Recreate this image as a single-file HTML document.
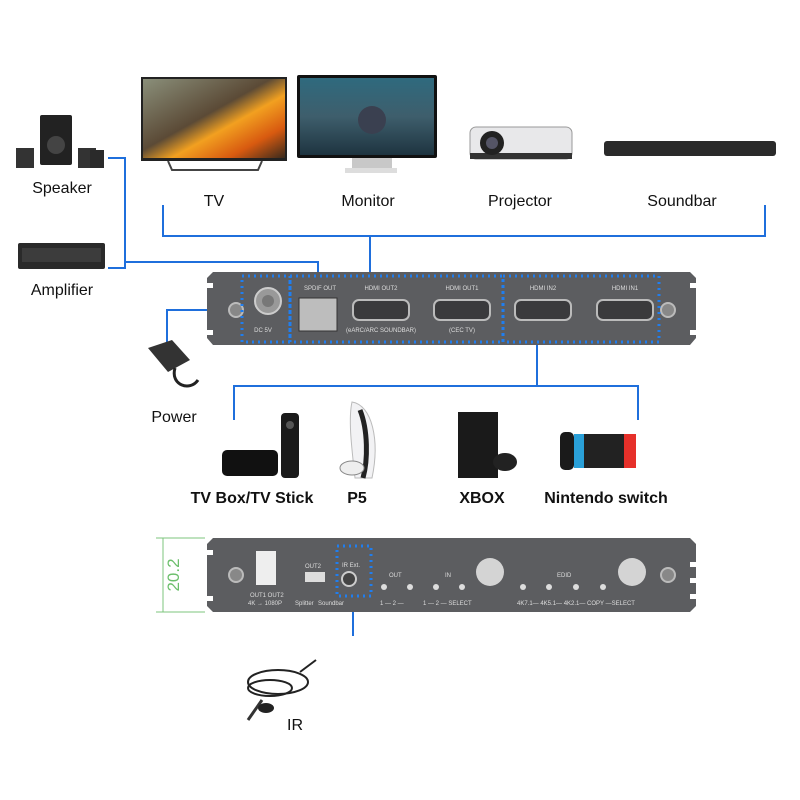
<!DOCTYPE html>
<html><head><meta charset="utf-8"><style>
body{margin:0;background:#fff;width:800px;height:800px;overflow:hidden}
svg{display:block}
text{font-family:"Liberation Sans",sans-serif}
</style></head><body>
<svg width="800" height="800" viewBox="0 0 800 800">
<defs>
<linearGradient id="tvg" x1="0" y1="0" x2="1" y2="1"><stop offset="0" stop-color="#8a8f7a"/><stop offset="0.45" stop-color="#5b4a36"/><stop offset="0.6" stop-color="#f2a020"/><stop offset="0.8" stop-color="#d85a10"/><stop offset="1" stop-color="#3a2a1c"/></linearGradient>
<linearGradient id="mog" x1="0" y1="0" x2="0" y2="1"><stop offset="0" stop-color="#2f6a7e"/><stop offset="0.5" stop-color="#3e5e6c"/><stop offset="1" stop-color="#1e3440"/></linearGradient>
</defs>
<g stroke="#1f6fdc" stroke-width="2" fill="none">
<polyline points="108,158 125,158 125,268 108,268"/>
<polyline points="125,262 318,262 318,274"/>
<polyline points="163,205 163,236 765,236 765,205"/>
<line x1="370" y1="236" x2="370" y2="274"/>
<polyline points="243,310 167,310 167,345"/>
<polyline points="537,342 537,386"/>
<polyline points="234,420 234,386 638,386 638,420"/>
<line x1="353" y1="610" x2="353" y2="636"/>
</g>
<!-- TV -->
<rect x="141" y="77" width="146" height="84" fill="#222"/>
<rect x="143" y="79" width="142" height="79" fill="url(#tvg)"/>
<polyline points="168,161 172,170 258,170 262,161" stroke="#444" stroke-width="2" fill="none"/>
<!-- Monitor -->
<rect x="297" y="75" width="140" height="83" rx="2" fill="#111"/>
<rect x="300" y="78" width="134" height="77" fill="url(#mog)"/>
<circle cx="372" cy="120" r="14" fill="#3a4050"/>
<rect x="352" y="158" width="40" height="10" fill="#c8c8c8"/>
<rect x="345" y="168" width="52" height="5" fill="#ddd"/>
<!-- Projector -->
<rect x="470" y="127" width="102" height="32" rx="6" fill="#e8e8ea" stroke="#999"/>
<rect x="470" y="153" width="102" height="6" fill="#333"/>
<circle cx="492" cy="143" r="12" fill="#222"/><circle cx="492" cy="143" r="6" fill="#556"/>
<!-- Soundbar -->
<rect x="604" y="141" width="172" height="15" rx="3" fill="#2a2a2a"/>
<!-- Speakers -->
<rect x="40" y="115" width="32" height="50" rx="2" fill="#222"/>
<circle cx="56" cy="145" r="9" fill="#444"/>
<rect x="16" y="148" width="18" height="20" fill="#333"/>
<rect x="78" y="148" width="18" height="20" fill="#333"/>
<rect x="90" y="150" width="14" height="18" fill="#2a2a2a"/>
<!-- Amplifier -->
<rect x="18" y="243" width="87" height="26" rx="2" fill="#2a2a2a"/>
<rect x="22" y="248" width="79" height="14" fill="#3c3c3c"/>
<!-- labels -->
<g font-size="16" fill="#111">
<text x="62" y="193" text-anchor="middle">Speaker</text>
<text x="62" y="295" text-anchor="middle">Amplifier</text>
<text x="214" y="206" text-anchor="middle">TV</text>
<text x="368" y="206" text-anchor="middle">Monitor</text>
<text x="520" y="206" text-anchor="middle">Projector</text>
<text x="682" y="206" text-anchor="middle">Soundbar</text>
<text x="174" y="422" text-anchor="middle">Power</text>
<text x="287" y="730">IR</text>
</g>
<g font-size="16" font-weight="bold" fill="#111">
<text x="252" y="503" text-anchor="middle">TV Box/TV Stick</text>
<text x="357" y="503" text-anchor="middle">P5</text>
<text x="482" y="503" text-anchor="middle">XBOX</text>
<text x="606" y="503" text-anchor="middle">Nintendo switch</text>
</g>
<!-- Top device -->
<path d="M213,272 H690 L696,278 V338 L690,345 H213 L207,338 V278 Z" fill="#5c5d60"/>
<g fill="#fff"><rect x="207" y="283" width="6" height="5"/><rect x="207" y="330" width="6" height="5"/><rect x="690" y="283" width="6" height="5"/><rect x="690" y="330" width="6" height="5"/></g>
<circle cx="236" cy="310" r="7" fill="#888" stroke="#bbb" stroke-width="2"/>
<circle cx="668" cy="310" r="7" fill="#888" stroke="#bbb" stroke-width="2"/>
<circle cx="268" cy="301" r="13" fill="#999" stroke="#ccc" stroke-width="2"/><circle cx="268" cy="301" r="6" fill="#777"/>
<rect x="299" y="298" width="38" height="33" fill="#bdbdbd" stroke="#333"/>
<g fill="#3a3a3c" stroke="#bbb" stroke-width="2">
<rect x="353" y="300" width="56" height="20" rx="6"/><rect x="434" y="300" width="56" height="20" rx="6"/>
<rect x="515" y="300" width="56" height="20" rx="6"/><rect x="597" y="300" width="56" height="20" rx="6"/>
</g>
<g font-size="6" fill="#ddd" text-anchor="middle">
<text x="320" y="290">SPDIF OUT</text><text x="381" y="290">HDMI OUT2</text><text x="462" y="290">HDMI OUT1</text>
<text x="543" y="290">HDMI IN2</text><text x="625" y="290">HDMI IN1</text>
<text x="381" y="332">(eARC/ARC SOUNDBAR)</text><text x="462" y="332">(CEC TV)</text><text x="263" y="332">DC 5V</text>
</g>
<g stroke="#1f7ef0" stroke-width="3" stroke-dasharray="2 4" fill="none">
<rect x="242" y="276" width="48" height="66"/>
<rect x="290" y="276" width="213" height="66"/>
<rect x="503" y="276" width="156" height="66"/>
</g>
<!-- Power adapter -->
<path d="M148,348 L172,340 L190,360 L168,372 Z" fill="#333"/>
<path d="M175,368 C170,385 190,392 198,380" stroke="#222" stroke-width="3" fill="none"/>
<!-- Apple TV -->
<rect x="222" y="450" width="56" height="26" rx="5" fill="#111"/>
<rect x="281" y="413" width="18" height="65" rx="4" fill="#1a1a1a"/>
<circle cx="290" cy="425" r="4" fill="#555"/>
<!-- PS5 -->
<path d="M352,402 C372,405 380,440 372,478 L355,478 C352,450 348,420 352,402 Z" fill="#f2f2f4" stroke="#bbb"/>
<path d="M360,410 C368,430 368,460 363,478" stroke="#222" stroke-width="5" fill="none"/>
<ellipse cx="352" cy="468" rx="12" ry="7" fill="#eee" stroke="#888"/>
<!-- XBOX -->
<rect x="458" y="412" width="40" height="66" fill="#1a1a1a"/>
<ellipse cx="505" cy="462" rx="12" ry="9" fill="#222"/>
<!-- Switch -->
<rect x="560" y="432" width="14" height="38" rx="5" fill="#1a1a1a"/>
<rect x="574" y="434" width="10" height="34" fill="#2aa0d8"/>
<rect x="584" y="434" width="40" height="34" fill="#222"/>
<rect x="624" y="434" width="12" height="34" fill="#e6302a"/>
<!-- Bottom device -->
<path d="M213,538 H690 L696,544 V606 L690,612 H213 L207,606 V544 Z" fill="#5c5d60"/>
<g fill="#fff"><rect x="207" y="550" width="6" height="5"/><rect x="207" y="596" width="6" height="5"/><rect x="690" y="562" width="6" height="5"/><rect x="690" y="578" width="6" height="5"/><rect x="690" y="594" width="6" height="5"/></g>
<circle cx="236" cy="575" r="7" fill="#888" stroke="#bbb" stroke-width="2"/>
<circle cx="668" cy="575" r="7" fill="#888" stroke="#bbb" stroke-width="2"/>
<rect x="256" y="551" width="20" height="34" fill="#eee"/>
<rect x="305" y="572" width="20" height="10" fill="#ddd"/>
<circle cx="349" cy="579" r="7" fill="#444" stroke="#ccc" stroke-width="2"/>
<circle cx="490" cy="572" r="14" fill="#d4d4d4"/>
<circle cx="632" cy="572" r="14" fill="#d4d4d4"/>
<g fill="#ddd"><circle cx="384" cy="587" r="3"/><circle cx="410" cy="587" r="3"/><circle cx="436" cy="587" r="3"/><circle cx="462" cy="587" r="3"/><circle cx="523" cy="587" r="3"/><circle cx="549" cy="587" r="3"/><circle cx="576" cy="587" r="3"/><circle cx="603" cy="587" r="3"/></g>
<g font-size="6" fill="#ddd">
<text x="250" y="597">OUT1 OUT2</text><text x="248" y="605">4K → 1080P</text><text x="305" y="568">OUT2</text>
<text x="342" y="567">IR Ext.</text><text x="389" y="577">OUT</text><text x="445" y="577">IN</text><text x="557" y="577">EDID</text>
<text x="380" y="605">1 — 2 —</text><text x="423" y="605">1 — 2 — SELECT</text><text x="517" y="605">4K7.1— 4K5.1— 4K2.1— COPY —SELECT</text>
<text x="295" y="605">Splitter</text><text x="318" y="605">Soundbar</text>
</g>
<rect x="337" y="546" width="34" height="50" stroke="#1f7ef0" stroke-width="3" stroke-dasharray="2 4" fill="none"/>
<!-- dimension -->
<g stroke="#7cc47c" stroke-width="1"><line x1="156" y1="538" x2="205" y2="538"/><line x1="156" y1="612" x2="205" y2="612"/><line x1="163" y1="538" x2="163" y2="612"/></g>
<text transform="translate(179,575) rotate(-90)" font-size="17" fill="#6cbf6c" text-anchor="middle">20.2</text>
<!-- IR cable -->
<ellipse cx="278" cy="682" rx="30" ry="12" fill="none" stroke="#222" stroke-width="2"/>
<ellipse cx="270" cy="688" rx="22" ry="8" fill="none" stroke="#222" stroke-width="2"/>
<path d="M300,672 L316,660" stroke="#222" stroke-width="2"/>
<path d="M262,700 L248,720" stroke="#333" stroke-width="3"/>
<ellipse cx="266" cy="708" rx="8" ry="5" fill="#222"/>
</svg>
</body></html>
